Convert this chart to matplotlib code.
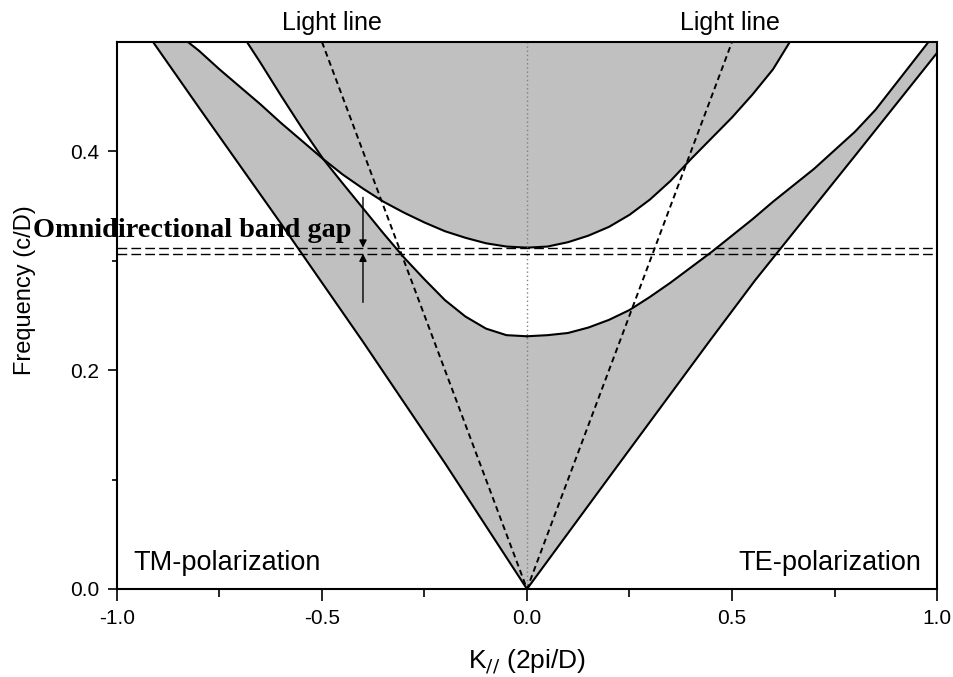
import matplotlib
matplotlib.use("Agg")
import matplotlib.pyplot as plt

plt.rcParams["font.family"] = ["Liberation Sans", "DejaVu Sans"]
plt.rcParams["axes.unicode_minus"] = False

# TM side (k < 0): outer edge of band 1, upper edge of band 1, lower edge of band 2
tm_outer_k = [0.0, -0.2, -0.4, -0.6, -0.8, -0.912]
tm_outer_f = [0.0, 0.115, 0.226, 0.334, 0.44, 0.5]
tm_b1_k = [0.0, -0.05, -0.1, -0.15, -0.2, -0.25, -0.3, -0.35, -0.4, -0.45, -0.497,
           -0.55, -0.6, -0.65, -0.683]
tm_b1_f = [0.231, 0.232, 0.238, 0.249, 0.264, 0.283, 0.303, 0.325, 0.348, 0.371, 0.393,
           0.422, 0.451, 0.481, 0.5]
tm_b2_k = [0.0, -0.05, -0.1, -0.15, -0.2, -0.25, -0.3, -0.35, -0.4, -0.45, -0.497,
           -0.55, -0.6, -0.65, -0.7, -0.75, -0.8, -0.827]
tm_b2_f = [0.312, 0.313, 0.316, 0.321, 0.327, 0.335, 0.344, 0.354, 0.366, 0.379, 0.393,
           0.41, 0.426, 0.443, 0.459, 0.475, 0.492, 0.5]
ic = 10  # punto donde se cruzan las dos curvas TM

# TE side (k > 0)
te_outer_k = [0.0, 0.2, 0.446, 0.556, 0.8, 1.0, 1.02]
te_outer_f = [0.0, 0.102, 0.227, 0.282, 0.396, 0.49, 0.5]
te_b1_k = [0.0, 0.05, 0.1, 0.15, 0.2, 0.25, 0.3, 0.35, 0.4, 0.45, 0.5, 0.55, 0.6,
           0.65, 0.7, 0.75, 0.8, 0.85, 0.9, 0.95, 1.0]
te_b1_f = [0.231, 0.232, 0.234, 0.239, 0.246, 0.255, 0.267, 0.28, 0.294, 0.308, 0.323,
           0.338, 0.354, 0.369, 0.384, 0.401, 0.418, 0.438, 0.462, 0.486, 0.51]
te_b2_k = [0.0, 0.05, 0.1, 0.15, 0.2, 0.25, 0.3, 0.35, 0.4, 0.45, 0.5, 0.55, 0.6, 0.641]
te_b2_f = [0.312, 0.313, 0.317, 0.323, 0.331, 0.342, 0.356, 0.373, 0.393, 0.412, 0.431,
           0.452, 0.475, 0.5]

# light lines and gap limits
light_k = [-0.5, 0.0, 0.5]
light_f = [0.5, 0.0, 0.5]
gap_lo = 0.3065
gap_hi = 0.312
arrow_k = -0.4
arrow_top = 0.358
arrow_bot = 0.262

gris = "#c0c0c0"

fig = plt.figure(figsize=(9.54, 6.77), dpi=100)
ax = fig.add_axes([0.1226, 0.13, 0.8596, 0.808])

# banda 1 (TM)
pk = tm_outer_k + tm_b2_k[ic:][::-1] + tm_b1_k[:ic + 1][::-1]
pf = tm_outer_f + tm_b2_f[ic:][::-1] + tm_b1_f[:ic + 1][::-1]
ax.fill(pk, pf, color=gris, lw=0)
# banda 1 (TE)
ax.fill(te_outer_k + te_b1_k[::-1], te_outer_f + te_b1_f[::-1], color=gris, lw=0)
# banda 2
pk = te_b2_k[::-1] + tm_b2_k[:ic + 1] + tm_b1_k[ic:]
pf = te_b2_f[::-1] + tm_b2_f[:ic + 1] + tm_b1_f[ic:]
ax.fill(pk, pf, color=gris, lw=0)

for k, f in [(tm_outer_k, tm_outer_f), (tm_b1_k, tm_b1_f), (tm_b2_k, tm_b2_f),
             (te_outer_k, te_outer_f), (te_b1_k, te_b1_f), (te_b2_k, te_b2_f)]:
    ax.plot(k, f, color="black", lw=1.5)

ax.plot(light_k, light_f, color="black", lw=1.4, linestyle=(0, (3, 2)))
ax.axvline(0, color="gray", lw=1, linestyle=(0, (1, 2)))
ax.axhline(gap_lo, color="black", lw=1, linestyle=(0, (7, 3)))
ax.axhline(gap_hi, color="black", lw=1, linestyle=(0, (7, 3)))

flecha = dict(arrowstyle="-|>", color="black", lw=1, mutation_scale=11, shrinkA=0, shrinkB=0)
ax.annotate("", xy=(arrow_k, gap_hi), xytext=(arrow_k, arrow_top), arrowprops=flecha)
ax.annotate("", xy=(arrow_k, gap_lo), xytext=(arrow_k, arrow_bot), arrowprops=flecha)

ax.text(-1.205, 0.3215, "Omnidirectional band gap", family="Liberation Serif",
        fontweight="bold", fontsize=20.3, clip_on=False, zorder=10)
ax.text(-0.475, 0.511, "Light line", fontsize=18, ha="center", clip_on=False)
ax.text(0.495, 0.511, "Light line", fontsize=18, ha="center", clip_on=False)
ax.text(-0.961, 0.0174, "TM-polarization", fontsize=19.5)
ax.text(0.961, 0.0174, "TE-polarization", fontsize=19.5, ha="right")

ax.set_xlim(-1, 1)
ax.set_ylim(0, 0.5)
ax.set_xticks([-1.0, -0.5, 0.0, 0.5, 1.0])
ax.set_xticks([-0.75, -0.25, 0.25, 0.75], minor=True)
ax.set_yticks([0.0, 0.2, 0.4])
ax.set_yticks([0.1, 0.3], minor=True)
ax.set_xticklabels(["-1.0", "-0.5", "0.0", "0.5", "1.0"])
ax.set_yticklabels(["0.0", "0.2", "0.4"])
ax.tick_params(axis="x", which="major", direction="out", length=8.5, width=1.2, labelsize=15, pad=6)
ax.tick_params(axis="x", which="minor", direction="out", length=6, width=1.2)
ax.tick_params(axis="y", which="major", direction="out", length=6.5, width=1.2, labelsize=15, pad=6)
ax.tick_params(axis="y", which="minor", direction="out", length=3.5, width=1.2)
for s in ax.spines.values():
    s.set_linewidth(1.5)

ax.set_xlabel(r"K$_{//}$ (2pi/D)", fontsize=19)
ax.set_ylabel("Frequency (c/D)", fontsize=17)
ax.xaxis.set_label_coords(0.5, -0.108)
ax.yaxis.set_label_coords(-0.099, 0.547)

fig.savefig("out.png", dpi=100)
